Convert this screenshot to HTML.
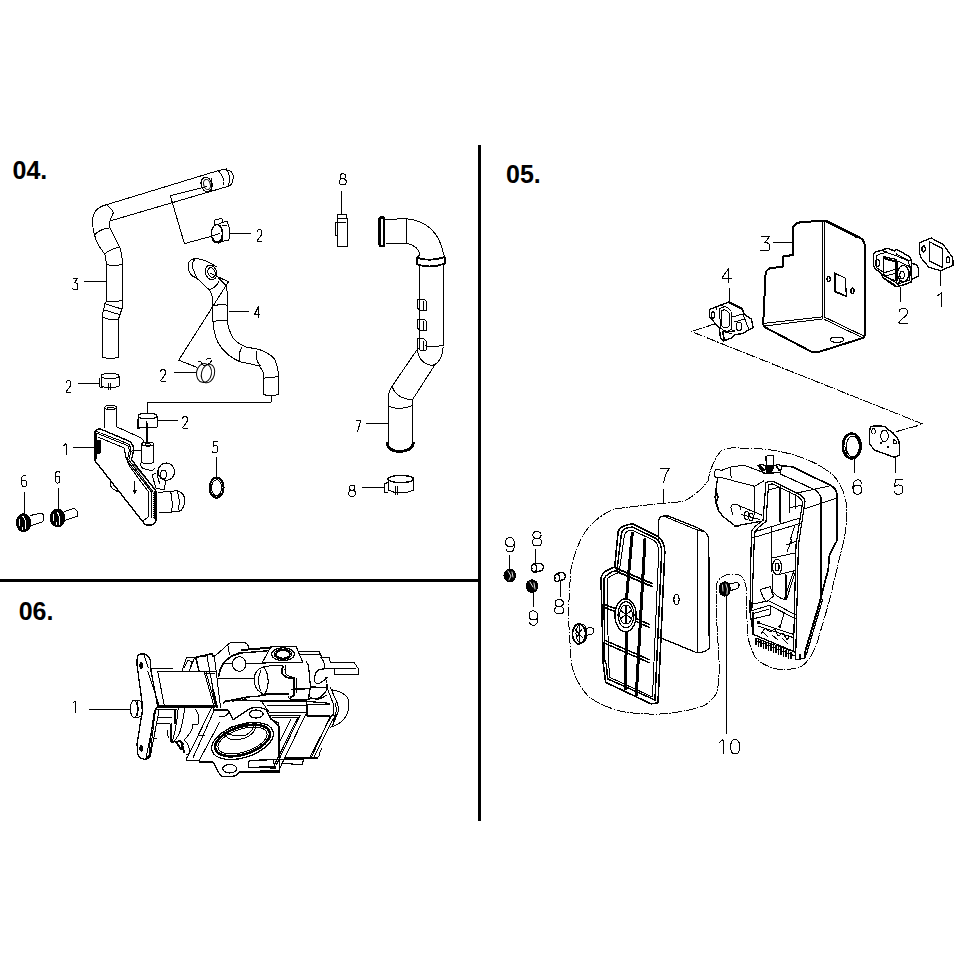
<!DOCTYPE html>
<html><head><meta charset="utf-8">
<style>
html,body{margin:0;padding:0;background:#fff;}
body{width:966px;height:966px;overflow:hidden;position:relative;}
svg{position:absolute;left:0;top:0;}
.t{font-family:"Liberation Sans",sans-serif;}
</style></head><body>
<svg width="966" height="966" viewBox="0 0 966 966">
<defs>
<g id="d1"><path d="M1,2.5 L3,0.5 L3,12"/></g>
<g id="d2"><path d="M0,3 Q0,0.5 2.5,0.5 Q5,0.5 5,3.5 Q5,6 2.5,8.5 L0,12 L5,12"/></g>
<g id="d3"><path d="M1,0.5 L5,0.5 L2.2,4.5 Q5.5,5 5.5,8.5 Q5.5,11.8 3,11.8 Q1.5,11.8 0,10.8"/></g>
<g id="d4"><path d="M4,12 L4,0.5 L0,8.5 L5.5,8.5"/></g>
<g id="d5"><path d="M5,0.5 L1,0.5 L0.5,5.5 Q1.5,4.5 3,4.5 Q5.2,4.5 5.2,8 Q5.2,12 2.5,12 Q1,12 0,11"/></g>
<g id="d6"><path d="M4.5,1 Q3.5,0.5 2.5,0.5 Q0,0.5 0,6 Q0,12 2.5,12 Q5,12 5,8.5 Q5,5 2.5,5 Q0.5,5 0,7"/></g>
<g id="d7"><path d="M0,0.5 L5,0.5 L1.5,12"/></g>
<g id="d8"><path d="M3.5,0.5 Q0.8,0.5 0.8,3 Q0.8,5.6 3.5,5.6 Q6.2,5.6 6.2,3 Q6.2,0.5 3.5,0.5 M3.5,5.6 Q0,5.6 0,8.7 Q0,11.6 3.5,11.6 Q7,11.6 7,8.7 Q7,5.6 3.5,5.6"/></g>
<g id="D1"><path d="M2.5,3.5 L6,0.5 L6,15"/></g>
<g id="D2"><path d="M0.7,4.3 Q0.7,0.5 5,0.5 Q9.3,0.5 9.3,4.3 Q9.3,7 6,9.2 Q1.5,12 0.5,15 L9.5,15"/></g>
<g id="D3"><path d="M0.5,0.5 L9,0.5 L4.5,6.2 Q9.3,6.5 9.3,10.5 L9.3,12.3 Q9,14.6 5.5,14.6 L0.5,14.3"/></g>
<g id="D4"><path d="M7,15 L7,0.5 L0.3,10.5 L9.8,10.5"/></g>
<g id="D5"><path d="M9,0.5 L2,0.5 L1,7.7 Q2.5,5.7 5,5.7 Q9.5,5.7 9.5,10.2 Q9.5,15 5,15 Q1,15 0.5,12"/></g>
<g id="D6"><path d="M9,3.8 Q8.3,0.5 5.2,0.5 Q0.6,0.5 0.6,8 Q0.6,15 5,15 Q9.5,15 9.5,10.3 Q9.5,5.8 5.2,5.8 Q1.5,5.8 0.7,9.3"/></g>
<g id="D7"><path d="M0.5,0.5 L9.5,0.5 Q5,6 3.5,15"/></g>
<g id="D8"><path d="M5,0.5 Q0.9,0.5 0.9,4 Q0.9,7.3 5,7.3 Q9.1,7.3 9.1,4 Q9.1,0.5 5,0.5 Z M5,7.3 Q0.5,7.3 0.5,11 Q0.5,15 5,15 Q9.5,15 9.5,11 Q9.5,7.3 5,7.3 Z"/></g>
<g id="D9"><path d="M9.3,6.5 Q8.7,9.7 5,9.7 Q0.5,9.7 0.5,5.2 Q0.5,0.5 5,0.5 Q9.5,0.5 9.4,7.5 Q9.4,15 5,15 Q1.5,15 1,11.8"/></g>
<g id="D0"><path d="M5,0.5 Q0.5,0.5 0.5,7.75 Q0.5,15 5,15 Q9.5,15 9.5,7.75 Q9.5,0.5 5,0.5 Z"/></g>
</defs>
<rect x="478" y="145" width="3" height="676" fill="#000"/>
<rect x="0" y="579" width="478" height="3" fill="#000"/>
<text class="t" x="12.5" y="178.7" font-size="25" font-weight="bold">04.</text>
<text class="t" x="506" y="183" font-size="25" font-weight="bold">05.</text>
<text class="t" x="18.7" y="619.7" font-size="25" font-weight="bold">06.</text>
<g fill="none" stroke="#000" shape-rendering="crispEdges" stroke-width="1" stroke-linejoin="round" stroke-linecap="round">

<!-- hose 3 -->
<path d="M106.6,204.7 L219.2,170.3 Q233,168 233.3,177 Q233,186 227.5,186.5 L213.4,190.6 L109.9,221"/>
<path d="M218.4,170.8 Q225,178 224,184.8 M226.5,169 Q231,175 228.5,186"/>
<path d="M106.6,204.7 Q92,208 92.5,223 Q93,240 104.9,254.4 L106.6,264.3 L106.6,301.2"/>
<path d="M106.6,204.7 Q113,210 113.2,213 L109.9,221 L109.9,227.9 L120.6,249.4 L122.3,259.4 L122.6,304.3"/>
<path d="M95,234.5 Q100,229 109.9,227.9"/>
<path d="M104,254.4 Q110,249 119.8,247"/>
<path d="M106.6,264.3 Q114,267 122.3,264.3"/>
<path d="M106.6,301.2 L105,303.6 L102.7,313.7 L102.4,357.1 Q110,360 118.5,357.1 L118.5,319 L122.1,308.2 L122.6,304.3"/>
<path d="M106.6,301.2 Q115,302 122.6,300.5 M105,303.6 L121.5,309 M103.5,309.8 L119.5,314.5 M102.6,317 Q110,321 118.5,319"/>
<ellipse cx="206.5" cy="184.5" rx="5.3" ry="7.5" transform="rotate(-15 206.5 184.5)" stroke-width="1.2"/>
<ellipse cx="207" cy="184.5" rx="3.3" ry="5.2" transform="rotate(-15 207 184.5)"/>
<path d="M211,178 Q213,183 211.5,191"/>
<path d="M206.8,186.5 L170.3,195.6 L184.4,243.6 L211.7,236.2"/>
<!-- clamp 2 at 220,231 -->
<ellipse cx="216.9" cy="233.5" rx="5.4" ry="9" stroke-width="1.3"/>
<path d="M212.5,238 Q214,243 219,242.5 Q222,241 222.3,236" stroke-width="2"/>
<path d="M222.9,222.1 L227.1,221.6 L229.5,228 L229.5,238.4 L228.5,240.3 L222.5,241.2 M220.5,226 Q224,232 222.5,241 M222,226 L227,225.5"/>
<path d="M214.1,225 L214.1,220.2 L218,219.5 L219.5,218.4 L222,218.5 L222.5,222 L219,224"/>
<path d="M212,236 L219.5,233.5"/>
<path d="M230,233 L251,233"/>
<use href="#d2" x="257" y="229"/>
<use href="#d3" x="72.5" y="278"/>
<path d="M84,281.5 L106.6,281.5"/>
<!-- clamp 2 lower-left -->
<ellipse cx="110" cy="376" rx="9" ry="2.5"/>
<path d="M101,376 L101,386 Q110,390 119,386 L119,376 M99.6,378 L99.6,387 L103,388 M108,383 L108,390 M110,383 L110,390"/>
<path d="M78.3,383.2 L99.6,383.2"/>
<use href="#d2" x="66" y="380"/>

<!-- hose 4 -->
<path d="M195,258.5 Q188,260 188,266 Q188,275 196.6,278 L209,289.6 Q212,293 212.1,296.6 L212.9,305.9 L212.9,321.4 Q214,335 218.3,343.2 Q226,356 240,361.8 L258.7,365.7 Q263,370 263.4,374.2 L263.4,394.4 Q270,397 278.1,394.4 L278.1,371.1 Q276,361 274.2,358.7 Q268,352 258.7,349.4 L246.3,347 Q236,343 232.3,337 Q228,328 227.6,321.4 L227.6,296.6 Q227,289 226,285.7 L218.3,278"/>
<path d="M195,258.5 Q205,259 216.8,267 M194.3,271.7 Q190,265 195,259 M194.3,271.7 L196.6,278"/>
<ellipse cx="211" cy="272.5" rx="5.5" ry="7.5" transform="rotate(-20 211 272.5)"/>
<ellipse cx="211.5" cy="272.5" rx="3.5" ry="5" transform="rotate(-20 211.5 272.5)"/>
<path d="M209,289.6 Q216,288 219,281"/>
<path d="M212.9,305.9 Q220,304 227.6,305.2 M212.9,321.4 Q220,320 227.6,320.6"/>
<path d="M241.6,347.8 Q238,354 240,361.8 M257.1,351 Q254,358 260.2,365.7"/>
<path d="M263.4,378.1 Q270,378 278.1,376.6"/>
<path d="M210.6,273.3 L228.4,281.8 L178.7,360.2 L196.6,367.2"/>
<path d="M229.2,311.3 L248.6,311.3"/>
<use href="#d4" x="254.5" y="306"/>
<!-- clamp 2 mid -->
<ellipse cx="204" cy="373" rx="7.5" ry="9.5" transform="rotate(10 204 373)"/>
<ellipse cx="208" cy="373.5" rx="6.5" ry="9.5" transform="rotate(15 208 373.5)"/>
<path d="M198,362 L200,361 L204,366 L210,363 L212,360 M206,360 L208,358 L211,359"/>
<path d="M174,372.7 L195.8,372.7"/>
<use href="#d2" x="160.5" y="369"/>
<!-- leader hose4 -> clamp on part1 -->
<path d="M271,396 L271,402.4 L147.1,402.4 L147.1,413.2"/>
<!-- clamp 2 on part 1 -->
<ellipse cx="147.5" cy="416" rx="9.5" ry="2.8"/>
<path d="M138,416 L138,427 Q147,429 157,427 L157,416 M137.1,419 L137.1,428 L140,428"/>
<path d="M146.5,422 L147,443" stroke-width="2"/>
<path d="M157,420.3 L177.7,420.3"/>
<use href="#d2" x="182.5" y="416"/>
<!-- part 1 body -->
<path d="M104.8,407.4 L104.8,428 M116.4,407.4 L116.4,426.6"/>
<ellipse cx="110.6" cy="407.5" rx="5.8" ry="2"/>
<ellipse cx="110.6" cy="408.5" rx="3.5" ry="1.2"/>
<path d="M95.1,460.9 L94.5,434 Q95,429.5 100,428.8 L129.3,441.3 Q134,445 133.7,450 L131.5,459.8 L155.4,490.2 Q156.5,491.5 156.5,493 L156.5,519.6 Q155,525 149,525.3 Q146,525 144.5,523.9 L95.1,460.9" stroke-width="1.4"/>
<path d="M97.5,433.5 L127.5,445.5 Q129.5,448 129.3,451 L127.2,460.5 L151.5,492 L151.5,518"/>
<path d="M97,431.5 L128.5,444 Q131,447 130.8,451 L128.8,460 L153,491.5 L153,518" stroke-width="1" stroke-dasharray="1 1"/>
<path d="M95.5,434 L95.5,458" stroke-width="2.4"/>
<path d="M97,440 L100,440 L100,453 L97,453 Z" fill="#000"/>
<path d="M97.8,437 L123.9,447.8 Q125,452 126,457.6 Q128,463 130.4,467.4 L148.9,492.4 L148.9,516.3 L143.4,520.7"/>
<path d="M116.3,426.6 L141.3,438 Q144,440 144.5,443 M131.5,451.1 L141.3,450"/>
<path d="M141.8,444 L141.8,462.5 Q147,465 153.8,462.5 L153.8,444" stroke-width="1.1"/>
<ellipse cx="147.8" cy="444" rx="6" ry="2"/>
<path d="M145.5,443.5 L150,443.5 L150,446 L145.5,446 Z"/>
<path d="M140.2,463 Q141,468 143.4,468.5 L151,470.7 Q154,470 154.3,468.5"/>
<path d="M131,466 L153,492 M133,464 L155,489" stroke-width="0.9"/>
<ellipse cx="166.3" cy="471.7" rx="8.2" ry="8.7" stroke-width="1.1"/>
<ellipse cx="163.5" cy="474.5" rx="3.3" ry="4.3" stroke-width="1.1"/>
<path d="M158.5,468 Q156,476 160,484 M156,473 L152,475 L156,488 L164,490 L166,480"/>
<path d="M158.7,492.4 L170.6,491.3 L177.1,490.8 Q184.7,493 184.7,500 L184.7,503.3 Q183,509 180.4,510.9 L171.7,512 L158.7,513"/>
<path d="M170.6,491.3 Q173,500 171.7,512 M177,491 Q181,500 178,510" stroke-width="1"/>
<path d="M155.4,492.4 L155.4,518.5" stroke-width="2.4"/>
<path d="M134.7,481.5 L134.7,493.5" stroke-width="1.3"/>
<path d="M133.2,490 L134.7,494 L136.2,490"/>
<path d="M110.8,481.5 Q109,486 113,489 L117.3,491.3" stroke-width="1.1"/>
<path d="M94.2,447.6 L73.4,447.6"/>
<use href="#d1" x="63" y="443"/>
<!-- part 5 o-ring -->
<ellipse cx="216.6" cy="487.7" rx="7" ry="10" stroke-width="2"/>
<ellipse cx="216.6" cy="487.7" rx="5" ry="8"/>
<path d="M216.6,457 L216.6,477.8"/>
<use href="#d5" x="212.5" y="441"/>
<!-- bolts 6 -->
<ellipse cx="23.6" cy="522.7" rx="7.2" ry="9" fill="#000"/>
<path d="M19.5,519 L19.5,526 M23,516.5 Q27,521 25.5,529 M22,527 L22,530" stroke="#fff" stroke-width="1"/>
<path d="M30.2,515.5 L41,513.2 Q43.5,514 43.4,515.5 L43.4,520.2 L42.6,521.7 L31,525.6"/>
<path d="M24.5,492.7 L24.5,513.5"/>
<use href="#d6" x="21.5" y="475"/>
<ellipse cx="57.6" cy="518" rx="7.4" ry="8.7" fill="#000"/>
<path d="M53.5,514 L53.5,521 M57,512 Q61,517 59.5,524.5 M56,522 L56,525" stroke="#fff" stroke-width="1"/>
<path d="M64.3,511.6 L73.7,508.5 Q77.5,510 77.5,512.4 L77.5,516.3 L65.1,520.2"/>
<path d="M58.5,488.6 L58.5,509.5"/>
<use href="#d6" x="55" y="471"/>
<!-- part 8 clip -->
<path d="M337.4,214.3 L346,214.3 L346,218.7 L337.4,218.7 Z M337.4,218.7 L337.4,246 Q342,248 347.5,246 L347.5,218 L346,218.7 M337.4,222.3 L346,222.3 M337.4,222 L335.9,222.5 L335.9,235.4 L337.4,235.4"/>
<path d="M341.7,191.2 L341.7,213.6"/>
<use href="#d8" x="339.3" y="173.2"/>
<!-- part 7 tube -->
<rect x="379.6" y="217.4" width="4.6" height="28.6" rx="1.5" stroke-width="2.3"/>
<path d="M384.5,219.4 L406.2,218.7 M386,244 L407,243.3 M406.2,218.7 L406.2,243.3"/>
<path d="M406.2,218.7 Q437,222 443.2,252.8 M407,243.3 Q418,246 420,254.2"/>
<path d="M417.1,257.8 L417.1,264.3 Q430,269 444.6,263.6 L444.6,257.1 Q430,262 417.1,257.8" stroke-width="1.8"/>
<path d="M417.1,257.8 Q420,254 420,254.2 M443.2,252.8 L444.6,257.1"/>
<path d="M419.5,265.8 L419.5,348.2 M443.7,265.8 L443.7,345.7"/>
<path d="M417.6,299 L424,299 L426.3,301 L426.3,310.3 L420,310.3 L417.6,308 Z M423.5,301 L423.5,310.3"/>
<path d="M417.6,319 L424,319 L426.3,321 L426.3,330.2 L420,330.2 L417.6,328 Z M423.5,321 L423.5,330.2"/>
<path d="M417.6,338.9 L424,338.9 L426.3,341 L426.3,350 L420,350 L417.6,348 Z M423.5,341 L423.5,350"/>
<path d="M425.7,345.7 Q435,348 443.1,345 M417.6,348.8 Q418,363 431.9,365.6 Q442,363 443.1,347"/>
<path d="M416.4,350.7 L392.2,386 Q388.6,392 388.6,396 L388.6,442.5 M434.4,365.6 L412.5,399.7 L412.5,442.5"/>
<path d="M392.2,386 Q395,398 412.5,400 M388.6,406.2 Q400,411 412.5,405.5"/>
<path d="M387,443 Q388,451 400,451.5 Q412,451 413.5,443" stroke-width="2.8"/>
<path d="M366.1,423.3 L388.6,423.3"/>
<use href="#d7" x="356" y="419.5"/>
<!-- part 8 clamp bottom -->
<ellipse cx="400.8" cy="479" rx="12.8" ry="3.6" stroke-width="1.4"/>
<path d="M388,479 L388,490 Q400,496 413.9,490 L413.9,479 M384.2,483.8 L384.2,492.5 L388,492.5 M384.2,483.8 L388,482.5 M395.8,486 L395.8,495 M397.5,486 L397.5,495"/>
<path d="M362,487.4 L384.2,487.4"/>
<use href="#d8" x="348.6" y="484.7"/>

<!-- ===== section 05 ===== -->
<!-- part 3 box -->
<path d="M823,220.6 L799.7,222.4 Q793,224 792.7,229.4 L792.7,255 L782.6,256.6 L782.6,266.7 L770.2,268.2 Q765.5,270 765.5,275.2 L763.2,323.4 Q763.5,326.5 764.8,327.2 L812.1,352.1 L818.3,352.1 L862.6,338.1 Q864.9,336.5 864.9,334.2 L864.9,245.7 Q864,239 858.7,237.2 L826.1,220.6 Z" stroke-width="2"/>
<path d="M826.1,221.8 L857.5,238" stroke-width="1" stroke-dasharray="1 0.8"/>
<path d="M822.7,220.6 L822.7,317.1 M824.6,220.6 L824.6,317.1"/>
<path d="M763.5,323.4 L823,316.8 M764.5,326 L823,318.9 M824.5,317.1 L863.4,335.8 M824.5,319.5 L862,337.5"/>
<path d="M834.6,272.9 L845.5,278.3 L846.3,296.2 L834.6,291.5 Z" stroke-width="1.2"/>
<path d="M834.6,272.9 L834.6,291.5 L846.3,296.2" stroke-width="1.8"/>
<ellipse cx="828.7" cy="279.1" rx="1.6" ry="2.6" stroke-width="1.4"/>
<ellipse cx="852.5" cy="290.7" rx="1.6" ry="2.6" stroke-width="1.4"/>
<ellipse cx="837" cy="339.7" rx="6.8" ry="2.6" stroke-width="1.2"/>
<path d="M773,242.6 L791.9,242.6"/>
<use href="#D3" x="760.5" y="236.2"/>
<!-- part 2 spacer -->
<path d="M873.3,255.4 Q874,252 876.4,251.5 L882,250.4 L887,248.1 L894.3,250.9 L896.5,249.3 L909.4,256.5 Q911,258 911,259.9 L911.6,263.2 L915.5,264.4 Q918.3,266 918.3,268.3 L918.3,276.1 L912.2,278.9 L911,282.2 L901.5,285.6 L895.4,286.7 L883.1,277.8 L881.4,273.3 L875.8,269.4 Q873.3,266 873.3,264.4 Z" stroke-width="1.4"/>
<path d="M876,256 L880,254 L886,252.5 L896,255.5 L908,261 Q910,266 911,272 L909,280.5 L898,284 L885,276 L883,272 L877,268 Z" stroke-width="1"/>
<path d="M883.1,257.7 L896,261 L896,281.1 L883.1,275.5 Z" stroke-width="1.1"/>
<path d="M883.5,258.5 L896,262 M883.5,256.5 L896,259.5" stroke-width="1.3" stroke-dasharray="1 0.8"/>
<path d="M896.5,261 L896.5,281" stroke-width="2.2"/>
<path d="M884.2,272.7 L895.4,269.4 M885.5,276 L895.4,273.3"/>
<path d="M883.1,277.8 L895.4,285.5" stroke-width="1.8" stroke-dasharray="1 0.7"/>
<ellipse cx="877.5" cy="263.2" rx="2.2" ry="3.4" stroke-width="1.1"/>
<ellipse cx="902.1" cy="275" rx="2.2" ry="3.9" stroke-width="1.1"/>
<ellipse cx="903.2" cy="273.5" rx="5.6" ry="8" stroke-width="1.1"/>
<path d="M896.5,254 L909.4,261 M899,261.5 L910.5,267 M907,268 Q911,273 909.5,280 M911.6,263.2 L911.6,279" stroke-width="1"/>
<path d="M882,250.4 L886,252 M898,284.5 L900,281" stroke-width="1.6"/>
<path d="M900.8,287 L900.8,301.6"/>
<use href="#D2" x="898.3" y="308"/>
<!-- part 1 gasket -->
<path d="M919.3,242.9 L931.2,238 L943.2,244.6 L951.9,256.5 Q953.5,260 953,265.2 L941,270.7 L929,267.4 L922.5,259.8 Q919.3,255 919.3,251.1 Z" stroke-width="1.3"/>
<path d="M929.6,241.8 L942.6,248.4 L942.6,267.4 L929.6,260.9 Z" stroke-width="1.3"/>
<ellipse cx="923.6" cy="248.9" rx="1.7" ry="3" stroke-width="1.3"/>
<ellipse cx="948.1" cy="259.8" rx="1.7" ry="3" stroke-width="1.3"/>
<path d="M940.5,271.2 L940.5,285.3"/>
<use href="#D1" x="935.5" y="292"/>
<!-- part 4 holder -->
<path d="M710,309.3 L716.2,306.8 L728.7,302.1 L742.1,308.8 L744.2,314 L751.4,319.2 L753,327.5 L742.1,333.7 L734.9,334.7 L731.8,337.8 L723.5,340.9 L720.4,337.8 L719.3,327.5 L715.2,323.3 L709.5,317.1 L709.5,310.9 Z" stroke-width="1.4"/>
<path d="M728.7,302.1 L742.1,308.8" stroke-width="2.2"/>
<ellipse cx="713.1" cy="315" rx="1.8" ry="3.2"/>
<path d="M721,311 Q725.5,308 729,313 L729,326 Q726,330 722,326 Z" stroke-width="1"/>
<path d="M719.5,309 Q726,304 731,311 L731.5,329 Q726,334 720.5,328 Z" stroke-width="1"/>
<ellipse cx="739" cy="326.4" rx="2.8" ry="4.3"/>
<path d="M731.8,317.1 L743.1,314 M734,322 L745,319 M743,314 L749,330 M722,331 L732,334 M716.2,306.8 L717,310 M722,304 L724,308" />
<path d="M723,333 L724,339 M726,332 L734,331" stroke-width="1.6"/>
<path d="M729.5,288.1 L729.5,302.1"/>
<use href="#D4" x="721.8" y="267.5"/>
<!-- dashed line -->
<path d="M715.2,323.8 L714.2,324.1 L713.3,324.4 L712.3,324.7 L711.4,325.0 L710.4,325.4 L709.5,325.7 L708.5,326.0 L707.6,326.3 L706.9,326.5 M704.7,327.2 L704.0,327.5 M701.9,328.2 L700.9,328.5 L700.0,328.8 L699.0,329.1 L698.1,329.4 L697.1,329.7 L696.2,330.0 L695.2,330.4 L694.3,330.7 L693.5,330.9 M691.4,331.6 L692.1,331.9 M694.2,332.7 L695.1,333.1 L696.0,333.5 L697.0,333.8 L697.9,334.2 L698.8,334.6 L699.8,334.9 L700.7,335.3 L701.6,335.7 L702.3,336.0 M704.4,336.8 L705.1,337.1 M707.2,337.9 L708.1,338.3 L709.1,338.7 L710.0,339.0 L710.9,339.4 L711.8,339.8 L712.8,340.1 L713.7,340.5 L714.6,340.9 L715.3,341.2 M717.4,342.0 L718.1,342.3 M720.2,343.1 L721.1,343.5 L722.1,343.8 L723.0,344.2 L723.9,344.6 L724.8,345.0 L725.8,345.3 L726.7,345.7 L727.6,346.1 L728.3,346.4 M730.4,347.2 L731.1,347.5 M733.2,348.3 L734.1,348.7 L735.1,349.0 L736.0,349.4 L736.9,349.8 L737.9,350.2 L738.8,350.5 L739.7,350.9 L740.6,351.3 L741.3,351.5 M743.4,352.4 L744.1,352.7 M746.2,353.5 L747.1,353.9 L748.1,354.2 L749.0,354.6 L749.9,355.0 L750.9,355.4 L751.8,355.7 L752.7,356.1 L753.6,356.5 L754.3,356.7 M756.4,357.6 L757.1,357.9 M759.2,358.7 L760.2,359.1 L761.1,359.4 L762.0,359.8 L762.9,360.2 L763.9,360.5 L764.8,360.9 L765.7,361.3 L766.7,361.7 L767.4,361.9 M769.4,362.8 L770.1,363.1 M772.2,363.9 L773.2,364.3 L774.1,364.6 L775.0,365.0 L775.9,365.4 L776.9,365.7 L777.8,366.1 L778.7,366.5 L779.7,366.9 L780.4,367.1 M782.4,368.0 L783.1,368.3 M785.2,369.1 L786.2,369.5 L787.1,369.8 L788.0,370.2 L789.0,370.6 L789.9,370.9 L790.8,371.3 L791.7,371.7 L792.7,372.1 L793.4,372.3 M795.5,373.2 L796.2,373.4 M798.2,374.3 L799.2,374.7 L800.1,375.0 L801.0,375.4 L802.0,375.8 L802.9,376.1 L803.8,376.5 L804.7,376.9 L805.7,377.3 L806.4,377.5 M808.5,378.4 L809.2,378.6 M811.2,379.5 L812.2,379.8 L813.1,380.2 L814.0,380.6 L815.0,381.0 L815.9,381.3 L816.8,381.7 L817.8,382.1 L818.7,382.4 L819.4,382.7 M821.5,383.6 L822.2,383.8 M824.3,384.7 L825.2,385.0 L826.1,385.4 L827.0,385.8 L828.0,386.2 L828.9,386.5 L829.8,386.9 L830.8,387.3 L831.7,387.6 L832.4,387.9 M834.5,388.8 L835.2,389.0 M837.3,389.9 L838.2,390.2 L839.1,390.6 L840.0,391.0 L841.0,391.4 L841.9,391.7 L842.8,392.1 L843.8,392.5 L844.7,392.8 L845.4,393.1 M847.5,394.0 L848.2,394.2 M850.3,395.1 L851.2,395.4 L852.1,395.8 L853.1,396.2 L854.0,396.5 L854.9,396.9 L855.8,397.3 L856.8,397.7 L857.7,398.0 L858.4,398.3 M860.5,399.1 L861.2,399.4 M863.3,400.3 L864.2,400.6 L865.1,401.0 L866.1,401.4 L867.0,401.7 L867.9,402.1 L868.9,402.5 L869.8,402.9 L870.7,403.2 L871.4,403.5 M873.5,404.3 L874.2,404.6 M876.3,405.5 L877.2,405.8 L878.1,406.2 L879.1,406.6 L880.0,406.9 L880.9,407.3 L881.9,407.7 L882.8,408.1 L883.7,408.4 L884.4,408.7 M886.5,409.5 L887.2,409.8 M889.3,410.7 L890.2,411.0 L891.1,411.4 L892.1,411.8 L893.0,412.1 L893.9,412.5 L894.9,412.9 L895.8,413.3 L896.7,413.6 L897.4,413.9 M899.5,414.7 L900.2,415.0 M902.3,415.8 L903.2,416.2 L904.2,416.6 L905.1,417.0 L906.0,417.3 L906.9,417.7 L907.9,418.1 L908.8,418.4 L909.7,418.8 L910.4,419.1 M912.5,419.9 L913.2,420.2 M915.3,421.0 L916.2,421.4 L917.2,421.8 L918.1,422.2 L919.0,422.5 L919.9,422.9 L920.9,423.3 L921.8,423.6 L922.7,424.0 L923.0,424.3 M920.8,424.9 L920.1,425.1 M917.9,425.7 L916.9,425.9 L915.9,426.2 L915.0,426.5 L914.0,426.7 L913.0,427.0 L912.1,427.3 L911.1,427.5 L910.1,427.8 L909.4,428.0 M907.2,428.6 L906.5,428.8 M904.3,429.4 L903.4,429.7 L902.4,430.0 L901.4,430.2 L900.5,430.5 L899.5,430.8 L898.5,431.0 L897.6,431.3 L896.6,431.6 L896.1,431.7 M893.9,432.3 L893.2,432.5" stroke-width="1"/>
<!-- part 6 ring -->
<ellipse cx="851.8" cy="446" rx="9" ry="12.5" stroke-width="2.4"/>
<ellipse cx="852.8" cy="446.5" rx="6.5" ry="10.5" stroke-width="1"/>
<path d="M845,440 Q844,446 847,454" stroke-width="1" stroke-dasharray="1 1"/>
<path d="M854.5,458.4 L854.5,473"/>
<use href="#D6" x="852.3" y="479.3"/>
<!-- part 5 plate -->
<path d="M870.4,427.3 Q871,426 874,426 L885,426.3 L897.3,437.7 Q899.5,441 899.4,446 L899.4,455.3 L894.2,457.3 L874.6,450.1 L869.4,443.9 L869.4,431 Z" stroke-width="1.4"/>
<ellipse cx="873.5" cy="431.4" rx="1.8" ry="2.6"/>
<ellipse cx="884.5" cy="436" rx="3.8" ry="5.8"/>
<path d="M893,439.5 L896,440.5 L896,444 L893,443 Z"/>
<circle cx="880.8" cy="442.8" r="0.8" fill="#000"/>
<circle cx="888" cy="447" r="0.8" fill="#000"/>
<path d="M895.5,457.3 L895.5,472.5"/>
<use href="#D5" x="893.5" y="479.3"/>
<!-- dashed outline (housing group) -->
<path d="M740.0,448.0 L741.2,448.0 L742.3,448.0 L743.5,448.0 L744.6,448.0 L745.8,448.1 L746.9,448.1 L748.1,448.1 L748.9,448.2 M751.2,448.2 L751.7,448.3 M754.2,448.4 L755.3,448.5 L756.4,448.5 L757.5,448.6 L758.6,448.7 L759.7,448.8 L760.8,448.9 L761.9,449.0 L762.9,449.1 M765.0,449.3 L765.8,449.4 M768.2,449.7 L769.2,449.8 L770.3,449.9 L771.3,450.1 L772.3,450.2 L773.3,450.4 L774.3,450.5 L775.3,450.7 L776.3,450.9 L776.8,451.0 M778.8,451.3 L779.6,451.5 M781.7,451.9 L783.0,452.2 L784.2,452.4 L785.4,452.7 L786.5,453.0 L787.7,453.3 L788.9,453.6 L790.0,453.9 L790.3,453.9 M792.6,454.6 L793.2,454.8 M795.5,455.4 L796.6,455.8 L797.7,456.1 L798.8,456.5 L799.9,456.9 L801.0,457.3 L802.1,457.6 L803.1,458.0 L803.8,458.3 M805.9,459.1 L806.5,459.4 M808.5,460.2 L809.6,460.7 L810.6,461.1 L811.6,461.6 L812.6,462.1 L813.5,462.6 L814.5,463.0 L815.5,463.5 L816.4,464.0 M818.3,465.1 L819.1,465.5 M820.9,466.6 L821.9,467.1 L822.8,467.7 L823.7,468.2 L824.5,468.8 L825.4,469.4 L826.3,470.0 L827.2,470.6 L828.0,471.2 L828.4,471.4 M830.1,472.7 L830.7,473.2 M832.5,474.6 L833.3,475.4 L834.1,476.3 L834.9,477.3 L835.7,478.2 L836.4,479.2 L837.1,480.2 L837.8,481.2 L837.9,481.4 M839.2,483.4 L839.6,484.0 M840.6,485.8 L841.1,486.9 L841.7,487.9 L842.1,489.0 L842.6,490.0 L843.1,491.1 L843.5,492.2 L843.9,493.3 L844.1,493.9 M844.8,496.2 L844.9,496.8 M845.5,499.1 L845.7,500.2 L845.9,501.4 L846.1,502.5 L846.3,503.7 L846.4,504.9 L846.5,506.1 L846.6,507.3 L846.6,507.7 M846.7,509.9 L846.7,510.6 M846.7,512.9 L846.6,514.1 L846.6,515.2 L846.5,516.3 L846.5,517.5 L846.4,518.6 L846.4,519.7 L846.3,520.8 L846.3,521.6 M846.1,523.8 L846.0,524.6 M845.8,527.0 L845.7,528.0 L845.6,529.1 L845.5,530.1 L845.4,531.1 L845.2,532.1 L845.1,533.1 L844.9,534.3 L844.7,535.5 M844.4,537.7 L844.2,538.6 M843.8,540.7 L843.6,541.8 L843.3,542.9 L843.0,544.0 L842.8,545.1 L842.5,546.2 L842.2,547.2 L841.9,548.3 L841.6,549.3 M841.1,551.5 L840.9,552.2 M840.4,554.4 L840.2,555.4 L839.9,556.4 L839.7,557.3 L839.5,558.3 L839.2,559.3 L839.0,560.3 L838.8,561.3 L838.5,562.2 L838.4,562.7 M837.9,564.9 L837.7,565.6 M837.2,567.8 L837.0,568.8 L836.7,569.8 L836.5,570.8 L836.3,571.7 L836.0,572.7 L835.8,573.7 L835.6,574.7 L835.3,575.6 L835.2,576.4 M834.6,578.6 L834.5,579.3 M834.0,581.5 L833.7,582.5 L833.5,583.4 L833.3,584.4 L833.0,585.4 L832.8,586.4 L832.6,587.4 L832.3,588.3 L832.1,589.3 L831.9,590.0 M831.4,592.2 L831.2,593.0 M830.7,595.2 L830.5,596.1 L830.2,597.1 L830.0,598.1 L829.8,599.1 L829.5,600.0 L829.3,601.0 L829.1,602.0 L828.8,602.9 L828.6,603.7 M827.9,605.8 L827.7,606.5 M827.1,608.7 L826.8,609.7 L826.5,610.6 L826.2,611.6 L826.0,612.6 L825.7,613.5 L825.4,614.5 L825.1,615.4 L824.8,616.4 L824.6,617.1 M824.0,619.3 L823.8,620.0 M823.1,622.2 L822.9,623.1 L822.6,624.1 L822.3,625.1 L822.0,626.0 L821.7,627.0 L821.5,627.9 L821.2,628.9 L820.9,629.9 L820.7,630.6 M820.0,632.7 L819.8,633.5 M819.2,635.6 L818.9,636.6 L818.6,637.6 L818.3,638.5 L818.1,639.5 L817.8,640.4 L817.5,641.4 L817.2,642.4 L816.9,643.3 L816.8,643.8 M815.9,646.1 L815.7,646.6 M814.8,648.8 L814.3,649.8 L813.8,650.8 L813.3,651.8 L812.8,652.8 L812.3,653.7 L811.8,654.6 L811.3,655.5 L810.8,656.3 L810.6,656.5 M809.4,658.3 L808.8,659.1 M807.6,660.7 L806.8,661.5 L806.1,662.3 L805.3,663.1 L804.6,663.8 L803.8,664.5 L803.0,665.1 L802.1,665.8 L801.1,666.5 L800.9,666.6 M798.8,667.5 L798.3,667.7 M796.1,668.2 L795.0,668.4 L793.9,668.6 L792.8,668.8 L791.8,668.9 L790.8,669.1 L789.7,669.2 L788.7,669.3 L787.7,669.4 L787.5,669.4 M785.0,669.5 L784.3,669.6 M782.2,669.5 L781.1,669.5 L779.9,669.4 L778.8,669.3 L777.7,669.2 L776.7,669.0 L775.6,668.8 L774.6,668.6 L773.6,668.3 M771.4,667.5 L770.8,667.2 M768.5,666.3 L767.4,665.8 L766.3,665.4 L765.3,664.9 L764.4,664.4 L763.4,663.9 L762.6,663.4 L761.5,662.8 L760.7,662.3 M759.0,661.1 L758.3,660.6 M756.8,659.1 L756.1,658.3 L755.4,657.4 L754.8,656.5 L754.3,655.4 L753.8,654.3 L753.3,653.2 L752.8,652.1 L752.6,651.6 M751.7,649.5 L751.4,648.7 M750.7,646.6 L750.3,645.6 L750.0,644.6 L749.7,643.7 L749.4,642.7 L749.0,641.5 L748.7,640.3 L748.4,639.2 L748.2,638.3 M747.8,636.1 L747.7,635.2 M747.4,633.1 L747.3,632.1 L747.2,631.1 L747.2,629.9 L747.2,628.6 L747.2,627.6 L747.1,626.6 L747.1,625.6 L747.1,624.6 L747.1,624.4 M747.0,622.1 L747.0,621.4 M746.9,619.1 L746.9,618.1 L746.9,617.1 L746.8,616.1 L746.8,615.1 L746.8,614.1 L746.8,613.1 L746.7,612.1 L746.7,611.1 L746.7,610.4 M746.6,608.1 L746.6,607.4 M746.5,605.1 L746.5,604.1 L746.5,603.1 L746.4,602.1 L746.4,601.1 L746.4,600.1 L746.4,599.1 L746.3,598.1 L746.3,597.1 L746.3,596.4 M746.2,594.1 L746.2,593.4 M746.1,591.1 L746.1,590.1 L746.1,589.1 L746.0,588.1 L746.0,587.1 L745.9,586.0 L745.6,584.8 L745.3,583.8 L745.0,582.7 L744.9,582.5 M744.1,580.4 L743.8,579.7 M742.6,577.9 L741.9,577.0 L741.2,576.3 L740.3,575.6 L739.3,575.0 L738.2,574.5 L737.0,574.2 L736.0,574.2 L735.0,574.2 M732.8,574.3 L732.0,574.3 M729.7,574.4 L728.7,574.4 L727.7,574.4 L726.6,574.8 L725.5,575.3 L724.4,575.8 L723.5,576.3 L722.6,576.8 L721.7,577.4 M719.9,578.8 L719.4,579.3 M717.9,581.0 L717.3,582.0 L716.8,583.1 L716.5,584.2 L716.5,585.2 L716.5,586.2 L716.5,587.2 L716.5,588.2 L716.5,589.2 L716.5,589.5 M716.5,591.7 L716.5,592.5 M716.5,594.7 L716.5,595.7 L716.5,596.7 L716.5,597.7 L716.5,598.7 L716.5,599.7 L716.5,600.7 L716.5,601.7 L716.5,602.7 L716.5,603.5 M716.5,605.7 L716.5,606.5 M716.5,608.7 L716.5,609.7 L716.5,610.7 L716.5,611.7 L716.5,612.7 L716.5,613.7 L716.5,614.7 L716.5,615.7 L716.5,616.7 L716.5,617.5 M716.6,619.7 L716.7,620.5 M716.8,622.7 L716.9,623.7 L716.9,624.7 L717.0,625.7 L717.0,626.7 L717.1,627.7 L717.1,628.7 L717.2,629.7 L717.3,630.7 L717.3,631.5 M717.4,633.7 L717.5,634.5 M717.6,636.7 L717.7,637.7 L717.7,638.7 L717.8,639.7 L717.9,640.7 L717.9,641.7 L718.0,642.7 L718.0,643.7 L718.1,644.7 L718.1,645.5 M718.3,647.7 L718.3,648.5 M718.4,650.7 L718.5,651.7 L718.6,652.7 L718.6,653.7 L718.7,654.7 L718.7,655.7 L718.8,656.7 L718.9,657.7 L718.9,658.7 L719.0,659.5 M719.1,661.7 L719.1,662.2 M719.3,664.5 L719.3,665.5 L719.3,666.6 L719.3,667.6 L719.2,668.6 L719.2,669.9 L719.1,671.2 L719.1,672.5 L719.1,673.4 M719.0,675.5 L718.9,676.4 M718.8,678.6 L718.7,679.7 L718.6,680.7 L718.5,681.7 L718.4,683.0 L718.2,684.1 L718.1,685.3 L717.9,686.4 L717.8,687.2 M717.4,689.4 L717.2,690.3 M716.8,692.3 L716.4,693.4 L715.8,694.3 L715.2,695.2 L714.6,696.1 L714.0,696.9 L713.4,697.7 L712.6,698.6 L711.7,699.5 M710.2,701.1 L709.7,701.5 M707.9,703.0 L706.9,703.7 L705.9,704.3 L705.0,704.9 L704.0,705.4 L702.9,705.9 L701.9,706.3 L700.8,706.7 L700.1,707.0 M697.9,707.6 L697.2,707.8 M695.1,708.4 L693.9,708.7 L692.7,709.0 L691.5,709.3 L690.3,709.6 L689.2,709.9 L688.0,710.1 L686.8,710.4 L686.5,710.4 M684.4,710.9 L683.6,711.0 M681.5,711.4 L680.2,711.7 L679.0,711.9 L677.8,712.1 L676.5,712.2 L675.6,712.4 L674.6,712.5 L673.6,712.7 L672.8,712.8 M670.6,713.0 L669.8,713.1 M667.5,713.4 L666.5,713.5 L665.5,713.6 L664.5,713.7 L663.5,713.7 L662.4,713.8 L661.4,713.9 L660.4,714.0 L659.4,714.0 L658.8,714.0 M656.5,714.1 L655.8,714.1 M653.6,714.1 L652.3,714.0 L651.1,714.0 L649.9,714.0 L648.7,714.0 L647.5,713.9 L646.3,713.9 L645.1,713.8 L644.8,713.8 M642.5,713.7 L641.7,713.7 M639.5,713.5 L638.4,713.4 L637.4,713.4 L636.3,713.3 L635.3,713.2 L634.3,713.1 L633.3,713.0 L632.1,712.9 L630.9,712.8 M628.5,712.5 L627.9,712.4 M625.7,712.1 L624.6,711.9 L623.5,711.7 L622.5,711.5 L621.5,711.3 L620.4,711.1 L619.2,710.9 L618.2,710.6 L617.1,710.3 M614.8,709.6 L614.2,709.4 M612.0,708.6 L610.9,708.2 L609.9,707.8 L608.8,707.4 L607.8,707.0 L606.8,706.6 L605.8,706.2 L604.8,705.8 L603.9,705.4 M602.0,704.5 L601.3,704.2 M599.3,703.2 L598.2,702.6 L597.2,702.0 L596.2,701.5 L595.1,700.9 L594.2,700.3 L593.2,699.7 L592.3,699.1 L591.7,698.7 M589.8,697.4 L589.3,697.0 M587.6,695.6 L586.9,694.8 L586.3,693.9 L585.6,693.1 L584.9,692.3 L584.3,691.5 L583.6,690.6 L583.0,689.8 L582.4,688.9 L582.1,688.5 M581.0,686.8 L580.6,686.2 M579.4,684.3 L578.8,683.2 L578.2,682.2 L577.6,681.1 L577.0,680.0 L576.5,679.0 L576.0,677.9 L575.5,676.8 L575.3,676.4 M574.5,674.4 L574.2,673.7 M573.4,671.5 L573.1,670.4 L572.8,669.3 L572.4,668.2 L572.2,667.1 L571.9,666.0 L571.7,664.9 L571.4,663.8 L571.3,663.1 M571.1,660.9 L571.1,660.2 M570.9,657.9 L570.9,656.9 L570.8,655.9 L570.7,654.9 L570.7,653.9 L570.6,652.9 L570.5,651.9 L570.5,650.9 L570.4,649.9 L570.4,649.2 M570.2,646.9 L570.2,646.2 M570.0,643.9 L570.0,642.9 L569.9,641.9 L569.9,640.9 L569.8,639.9 L569.7,638.9 L569.7,637.9 L569.6,636.9 L569.5,635.9 L569.5,635.2 M569.4,632.9 L569.3,632.2 M569.2,629.9 L569.1,628.9 L569.0,627.9 L569.0,626.9 L568.9,625.9 L568.9,624.9 L568.8,623.9 L568.7,622.9 L568.7,621.9 L568.6,621.2 M568.5,618.9 L568.4,618.2 M568.4,615.8 L568.5,614.7 L568.5,613.6 L568.5,612.5 L568.6,611.4 L568.6,610.4 L568.6,609.3 L568.7,608.2 L568.7,607.1 M568.8,605.0 L568.8,604.2 M568.9,601.9 L568.9,600.8 L569.0,599.8 L569.0,598.8 L569.1,597.7 L569.1,596.7 L569.2,595.7 L569.2,594.7 L569.3,593.7 L569.3,593.2 M569.4,590.9 L569.5,590.2 M569.6,587.9 L569.7,586.7 L569.7,585.5 L569.8,584.2 L569.9,583.0 L570.0,581.8 L570.1,580.6 L570.2,579.4 L570.2,579.2 M570.4,577.1 L570.4,576.1 M570.6,574.0 L570.7,572.9 L570.8,571.7 L570.9,570.6 L571.0,569.4 L571.1,568.3 L571.3,567.1 L571.6,565.8 L571.8,565.2 M572.3,563.1 L572.5,562.5 M573.1,560.1 L573.5,559.0 L573.8,557.9 L574.2,556.7 L574.5,555.6 L574.8,554.5 L575.2,553.5 L575.6,552.4 L575.7,551.9 M576.5,549.9 L576.7,549.1 M577.6,546.9 L577.9,546.0 L578.3,545.1 L578.8,543.9 L579.3,542.8 L579.8,541.7 L580.3,540.7 L580.8,539.6 L581.1,539.0 M582.1,537.1 L582.5,536.3 M583.7,534.3 L584.2,533.5 L584.9,532.5 L585.5,531.5 L586.2,530.6 L586.9,529.7 L587.5,528.8 L588.3,527.9 L588.9,527.3 M590.2,525.7 L590.8,525.2 M592.4,523.5 L593.1,522.8 L593.8,522.1 L594.6,521.4 L595.5,520.6 L596.4,519.8 L597.4,519.0 L598.3,518.2 L598.9,517.8 M600.7,516.5 L601.5,515.9 M603.3,514.7 L604.3,514.1 L605.3,513.5 L606.4,512.9 L607.4,512.3 L608.5,511.8 L609.5,511.3 L610.6,510.8 L611.0,510.6 M613.0,509.8 L613.7,509.5 M615.9,508.7 L616.9,508.6 L617.9,508.5 L618.9,508.3 L619.9,508.2 L620.9,508.1 L621.9,508.0 L622.9,507.9 L623.9,507.8 L624.6,507.7 M626.8,507.4 L627.6,507.3 M629.8,507.1 L630.8,506.9 L631.8,506.8 L632.8,506.7 L633.8,506.6 L634.8,506.5 L635.8,506.4 L636.8,506.2 L637.8,506.1 L638.5,506.0 M640.8,505.8 L641.5,505.7 M643.8,505.4 L644.7,505.3 L645.7,505.2 L646.7,505.1 L647.7,504.9 L648.7,504.8 L649.7,504.7 L650.7,504.6 L651.7,504.5 L652.5,504.4 M654.7,504.1 L655.4,504.0 M657.7,503.8 L658.7,503.7 L659.7,503.5 L660.7,503.4 L661.7,503.3 L662.7,503.2 L663.7,503.1 L664.8,503.1 L665.9,503.1 L666.4,503.0 M668.5,502.9 L669.3,502.9 M671.4,502.8 L672.4,502.7 L673.4,502.6 L674.4,502.5 L675.7,502.3 L676.9,502.1 L678.1,502.0 L679.3,501.8 L680.2,501.6 M682.5,501.1 L683.2,501.0 M685.4,500.4 L686.5,499.9 L687.4,499.3 L688.3,498.8 L689.2,498.2 L690.1,497.6 L691.0,497.0 L691.8,496.4 L692.7,495.9 M694.5,494.5 L695.1,494.0 M696.9,492.6 L697.8,491.8 L698.8,491.0 L699.7,490.2 L700.5,489.4 L701.4,488.5 L702.2,487.7 L703.1,486.8 L703.2,486.6 M704.8,484.9 L705.3,484.4 M706.6,482.7 L707.3,481.8 L708.0,480.9 L708.3,479.8 L708.5,478.7 L708.7,477.5 L709.0,476.4 L709.3,475.3 L709.5,474.5 M710.0,472.4 L710.3,471.6 M710.9,469.6 L711.2,468.6 L711.6,467.6 L711.9,466.7 L712.3,465.7 L712.7,464.6 L713.2,463.4 L713.7,462.3 L714.2,461.3 M715.2,459.4 L715.6,458.6 M716.8,456.7 L717.3,455.8 L718.0,454.9 L718.6,454.1 L719.2,453.2 L719.9,452.4 L720.6,451.6 L721.3,450.9 L722.0,450.1 L722.1,450.0 M724.3,449.3 L724.9,449.1 M727.2,448.5 L728.4,448.3 L729.6,448.1 L730.8,448.0 L732.0,447.9 L733.2,447.8 L734.2,447.8 L735.3,447.8 L736.0,447.8 M738.1,447.8 L738.9,447.9" stroke-width="1"/>
<!-- label 7 -->
<path d="M663.4,489.1 L663.4,503.1"/>
<use href="#D7" x="660" y="468"/>
<!-- foam block -->
<path d="M658.5,540 L658.5,521 Q659,516.5 663.5,516 L668,516 L696.7,527.3 L705,532 Q708.5,535 708.8,540 L709.2,648.1 Q705,653 696.7,652.7 L658,636.7" stroke-width="1.3"/>
<path d="M663.5,516 L696,529.5 Q700,531 704,531.5 M697.8,530 L697.8,652.5"/>
<ellipse cx="676.5" cy="599.5" rx="2.6" ry="5" stroke-width="1.1"/>
<!-- filter frame -->
<path d="M618.1,531.9 Q620,525 632.9,523.9 L658,536.5 Q664.5,541 664.8,552.4 L658,702.8 L651.1,703.9 L605.6,682.3 L603.3,664 L601,577.5 Q603,570.5 614.7,567.2 Z" stroke-width="1.6"/>
<path d="M621.5,533 Q623,527.5 632.5,527 L656,538.5 Q661.5,542.5 661.7,552 L655,700 L607.5,678.8 L606.5,665 L604.5,659.5 L604,579 Q606,573.5 617,570 Z" stroke-width="1.5"/>
<path d="M624.5,535 Q626,530.5 632,530 L654,540.5 Q658.5,543.5 658.7,552 L652.5,697 L610,677.5 L608.5,663 L607,579.5 Q609,576 619,572.5 Z" stroke-width="1"/>
<path d="M632.3,533 L626.5,598.5 M626.3,632 L625.6,689 M645,539 L636.3,694.8" stroke-width="3"/>
<path d="M615.5,568 L652,583.5 M615.5,571 L652,586.5" stroke-width="1.8"/>
<path d="M605.6,604.8 L615,608.5 M637,618.9 L648.9,624.2 M605.6,607.8 L615,611.5 M637,621.9 L648.9,627.2" stroke-width="1.5"/>
<path d="M604.4,640.1 L648.9,659.5 M604.4,643.1 L648.9,662.5" stroke-width="1.5"/>
<ellipse cx="625.6" cy="615.2" rx="10.6" ry="16.5" stroke-width="1.4"/>
<ellipse cx="626" cy="614.8" rx="8" ry="13" stroke-width="1.2"/>
<ellipse cx="626" cy="614.5" rx="6.3" ry="9.5" stroke-width="1"/>
<path d="M626,605 L626,624 M620.5,610.5 L631.5,618.5 M631.5,610.5 L620.5,618.5" stroke-width="1.3"/>
<!-- screw left of frame -->
<ellipse cx="579" cy="634" rx="6.5" ry="10" stroke-width="1.6"/>
<ellipse cx="581.5" cy="633.5" rx="5.5" ry="9.5"/>
<path d="M575.5,630 L583,638 M582,629 L576,639 M579,625 L579,643"/>
<path d="M585.5,628.5 L591.5,627.5 Q594,628.5 594,631 Q593.5,634 590,634.5 L586.5,635.5"/>
<!-- small nuts 8, 9 -->
<ellipse cx="509.8" cy="575.5" rx="5.8" ry="6.3" fill="#000" stroke-width="1"/>
<path d="M508,571 L511,576 L509,580 M512,572 L513,577" stroke="#fff" stroke-width="0.9"/>
<path d="M509.5,555.3 L509.5,569.4"/>
<use href="#D9" x="505" y="537"/>
<path d="M532,568 Q530.5,566 534,563.5 L540,563.4 Q543.5,564.5 543.3,567.5 Q543,570.5 540,571 L534,572.5 Q530.5,571 532,568 Z" stroke-width="1.3"/>
<ellipse cx="534" cy="568.1" rx="2.4" ry="4.2" stroke-width="1.3"/>
<path d="M535.4,549.2 L535.4,563.4"/>
<use href="#D8" x="532" y="531"/>
<ellipse cx="532" cy="586.2" rx="5.8" ry="6.3" fill="#000" stroke-width="1"/>
<path d="M530,582 L533,587 M534,583 L535,589" stroke="#fff" stroke-width="0.9"/>
<path d="M533.4,593 L533.4,606.4"/>
<use href="#D9" x="528.5" y="610.3"/>
<path d="M555,578 Q554,575 557,573.3 L563,572.5 Q565.5,573.5 565.3,576.5 Q565,579.5 562,580 L557,581.5 Q554,581 555,578 Z" stroke-width="1.3"/>
<ellipse cx="557" cy="577.8" rx="2.4" ry="4" stroke-width="1.3"/>
<path d="M560.7,581.5 L560.7,596.3"/>
<use href="#D8" x="554.2" y="599"/>
<!-- air filter housing -->
<!-- left lump -->
<path d="M721.1,470.5 L730.8,467 L744,465.2 L765.1,473.1 M721.1,477.5 L754.6,486.3 M730.8,467 Q729,472 731.7,477.5 M754.6,486.3 L754.6,514.5 M754.6,486.3 L763.4,481"/>
<path d="M721.1,470.5 Q718,468.5 715.5,470 Q713.5,473 714.5,476 Q716,478.5 721.1,477.5" stroke-width="1.1"/>
<path d="M717.6,477.5 L715,496.9 L717.6,509.2 L722.9,516.3 L735.2,526 L759.9,521.5" stroke-width="1.3"/>
<path d="M715.5,490 L718,497 L716,503 L718.5,509" stroke-width="1.8"/>
<path d="M730.8,507.5 Q731,504.5 735,504 Q738.5,504 740,507 L740.5,510 M733,515 L730.8,507.5 M740,506 L761.5,515 M741.5,514.5 L759.5,519.5"/>
<ellipse cx="746.7" cy="515.4" rx="2.4" ry="4" stroke-width="1.2"/>
<ellipse cx="751" cy="516.8" rx="2.2" ry="3.8" stroke-width="1"/>
<path d="M735.2,526 L738,526.5" stroke-width="2"/>
<!-- clip knob -->
<path d="M765.9,456.5 Q769,454.5 773.8,456 L773.5,466 M765.9,456.5 L766.5,466" stroke-width="1.3"/>
<path d="M758,465.5 L762,464.5 L766.5,466 L773.5,466 L778,464.5 L782,466 L780,472.5 L764,473.5 Z" stroke-width="1.3"/>
<path d="M765,466.5 L774,466.5 L771.5,472.5 L767,472.5 Z" fill="#000" stroke-width="1"/>
<path d="M761,467 L764,470 M777,467 L779,470" stroke-width="1.5"/>
<!-- outer shell -->
<path d="M781.8,466 L792,466.7 L831.1,485.6 Q836.9,489 836.9,495 L836.9,540.7 L829.5,554.7 L828.2,569.6 L820.4,599.4 L804.9,652.4" stroke-width="1.7"/>
<path d="M780.4,474 L815.1,489.9 Q820.9,494 820.9,500 L821.1,599.4 L804.9,653.7 M822.5,600 L806.5,654" stroke-width="1.2"/>
<path d="M821.1,498 L821.1,599.4" stroke-width="2.2"/>
<path d="M805,508.8 L835.4,498.6 M797.8,492.8 L831.1,485.6"/>
<!-- bezel -->
<path d="M765.9,482.7 Q769,481 773.1,481.2 L799.2,494.3 Q805,498 805,501.5 L798.4,545 L795.8,652.4 M768.5,485 Q771,483.5 773,484 L798,496.5 Q802.5,500 802.5,503 L796,545 L793.5,650" stroke-width="1.2"/>
<path d="M765.9,482.7 L763,520.4 Q753,527 751.4,532 L749.9,611 L753.1,634.3 M768.5,485 L766,521.5 Q756,528.5 754.5,533.5 L751.8,611" stroke-width="1.2"/>
<path d="M753.1,612.3 L753.1,634.3 L795.8,652.4" stroke-width="1.3"/>
<path d="M780.4,487 L780.4,521.8" stroke-width="2"/>
<path d="M771.7,526.2 L771.7,572 M752.8,537.8 L800.7,523.3 M754,532 L800,518 M768.8,489.9 L780.4,487 M789.1,491.4 L789.1,513.1 M795.6,494.3 L795.6,508.8 M789,508 L802,505"/>
<path d="M790.5,539.2 L795,525 M786,545 L797,541 M787,552 L792,539" />
<!-- boss -->
<path d="M772.5,558 L795.8,552.8 M777.7,574.8 L795.8,570.2"/>
<ellipse cx="777.1" cy="567" rx="4.5" ry="7.8" stroke-width="1.2"/>
<ellipse cx="777.1" cy="567" rx="2" ry="3.8" stroke-width="1.2"/>
<path d="M785.5,574.8 L785.5,599.4" stroke-width="2"/>
<path d="M795.8,570.2 L786.5,599.4 M793.5,572 L784,600 M773,574 L772,590 Q775,597 786,600" />
<path d="M760.2,589.7 L770.6,586.4 Q771,592 773.8,596.1 L766.1,602 Q762,596 760.2,589.7 Z"/>
<path d="M750.5,604.5 L768.7,600.7 M750.5,611 L769,605.5 M752,614 L769,609 M768.7,600.7 L795.8,614.9 M769,605 L795.8,619"/>
<path d="M753.1,618.8 L770,614.9 L771,605 M758.3,622.7 L793.3,634.3 M758,626 L793,637.5 M780.3,626.6 L784.2,612.3"/>
<circle cx="758.5" cy="622.5" r="1.2" fill="#000"/>
<circle cx="780" cy="626.5" r="1" fill="#000"/>
<path d="M755.7,638.2 L794.5,652 M757,641 L795,656" stroke-width="1"/>
<path d="M756,638 L756,645 M758.5,639 L758.5,646 M761,640 L761,647 M763.5,641 L763.5,648 M766,642 L766,649 M768.5,643 L768.5,650 M771,644 L771,651 M773.5,645 L773.5,652 M776,646 L776,653 M778.5,647 L778.5,654 M781,648 L781,655 M783.5,649 L783.5,656 M786,650 L786,657 M788.5,651 L788.5,658 M791,652 L791,659" stroke-width="1.1"/>
<path d="M761,634 L765,628 L770,632 L775,629 L778,636 L783,633 L787,640 L790,636 M762,631 L768,637 M772,635 L778,640 M782,638 L788,644" stroke-width="1"/>
<path d="M795.8,652.4 L795.8,660 L804.9,658 L804.9,652.4 M800,654 L800,660" stroke-width="1.2"/>
<!-- bolt 10 -->
<ellipse cx="724.7" cy="589" rx="5.6" ry="7.2" fill="#000"/>
<path d="M722.5,585 L723,591 M726,584 Q728.5,589 727,594" stroke="#fff" stroke-width="0.9"/>
<path d="M729,584 L737,582.5 Q739.5,583 739,586 Q738.5,589 736,589 L729,591"/>
<path d="M726.1,595.3 L726.1,734"/>
<use href="#D1" x="717" y="739" />
<use href="#D0" x="730.2" y="739" />

<!-- ===== section 06 carburetor ===== -->
<path d="M89,709.5 L130.4,709.5"/>
<use href="#d1" x="72" y="700.5" transform="translate(-72 -700.5) translate(72 700.5)"/>
<!-- knob -->
<ellipse cx="134" cy="708.8" rx="3.6" ry="8.6" stroke-width="1.1"/>
<path d="M134,700.2 Q140,699.5 141.5,703 L142.5,714 Q141,717.8 134,717.4 M137.5,702 Q139,709 137.5,716"/>
<!-- flange plate -->
<path d="M138.7,654.8 Q141,653.5 144.5,654 Q149,656 150.3,660.6 L151.1,671.4 L157.7,706.2 L154.4,711.2 L149.4,745.9 L150.3,755.9 Q148,759.5 143.6,759.2 Q139,758 137.8,754.2 L137,744.3 L142.8,707.8 L137,664.8 Q136.5,657 138.7,654.8 Z" stroke-width="1.3"/>
<path d="M147.8,671.4 L159.4,706.2 M155.2,711.2 L150.3,752.6 M144,655 L148.5,668"/>
<ellipse cx="141.2" cy="665.6" rx="1.3" ry="2.8" fill="#000"/>
<ellipse cx="141.2" cy="748.4" rx="1.3" ry="2.8" fill="#000"/>
<!-- intake tube -->
<path d="M151.9,668.9 L172.6,668.9 M157.7,671.4 L205.8,671.4 M157.7,671.4 L164.3,705.4 M205.8,671.4 L215.7,706.2"/>
<path d="M157.7,705.9 L214,705.9 M157.7,707.6 L214,707.6" stroke-width="1.2"/>
<path d="M175,671.2 L216.4,671.2 M175,705.4 L214.3,705.4"/>
<path d="M156.6,709.9 L176.5,709.9 M174.8,709.9 L174.8,723.2 M158.3,717.4 L171,717.4 M156.6,723.2 L170,723.2" stroke-width="1.1"/>
<path d="M175,710 L175,723" stroke-width="2.2"/>
<path d="M171.5,724 L170.7,741.4 L172.5,742" stroke-width="2"/>
<path d="M152.5,738 L157,738.5 M168,730 Q167,735 169,738"/>
<path d="M178.1,708.3 Q178,716 176.5,722.3 Q175,733 172.3,741.4 M184.8,708.3 Q183,722 179.8,732.3 Q176,740 173,742.5"/>
<path d="M195.5,709.1 L198,714 L198,724 L193,724 L192.5,728 Q189,736 184,739.7 Q190,745 189.7,753 L186,755"/>
<path d="M211.3,708.3 L187.2,757.9 M213.7,711.6 L193,757.9 M219.5,722.3 L199.7,759.6 M199,735 L205,735"/>
<path d="M186.4,760.4 L199.7,760.4 M199.7,762.1 L212.9,762.1 M186,757 L186.4,760.4"/>
<path d="M176,742 L181,749 L183,744 L180,741 Z M182,744 L184,752" stroke-width="2"/>
<path d="M156,709.1 L145.8,758.8 M159.1,709.9 L150.8,753.8 M145.8,758.8 L150.8,753.8"/>
<!-- left triangle bracket and blocks -->
<path d="M182.2,670.2 L186.4,657.8 L194.7,657.3 L189.5,670.2 M184,668 L188,660 L192,662 L190,668" stroke-width="1.1"/>
<path d="M195.7,657.3 L212.3,653.6 L213,656 M198.8,670.2 L195.7,657.3 M195.7,657.3 L207,655.5" stroke-width="1.6"/>
<path d="M204,671.2 L214.3,707.5 M207.1,656.7 L216.4,707.5 M214.3,655.7 L220.5,707.5"/>
<path d="M213,690 L217,707" stroke-width="2"/>
<path d="M205,673 L215,673"/>
<!-- main body top -->
<path d="M215.4,655.7 L227.1,645.3 Q230,642 233.6,642.1 L244.8,642.5 Q248,644 248.5,647.2 M228,646 Q228,651 229.9,654.6"/>
<path d="M242,650 L270.9,647.6" stroke-width="2"/>
<path d="M238.3,653.2 L267.2,650.9" stroke-width="1.4"/>
<path d="M218.7,676 Q220,668 224.3,662.1 Q230,656 238.3,653.7" stroke-width="1.8"/>
<ellipse cx="239.2" cy="664" rx="6.8" ry="7.3"/>
<path d="M224.3,663 L232.4,663 M246,663 L263.5,663 M263.5,666.3 L283,665.3 M217.8,678.4 L254.1,678.4 M261.6,664 L268.1,651.8"/>
<path d="M263.5,666.8 Q254,670 254.1,679.8 Q254,690 264.4,694.7 Q268.5,688 268.1,680.7 Q268,672 263.5,666.8 Z" stroke-width="1.1"/>
<path d="M260.7,670.5 Q256.5,680 260.7,691"/>
<path d="M265.3,693.8 L287.7,693.8" stroke-width="1.8"/>
<path d="M224.3,701.2 L241.1,700.3 Q247,697 252.3,696.6 L265.3,695.6"/>
<path d="M291.4,689.1 L305,689.1 M291.4,699.4 L305,699.4"/>
<!-- cap block & ring -->
<path d="M270.9,646.3 L296.1,646.3 L302.6,662.1 M270.9,646.3 L268.1,651.8 M263.5,663 L302.6,662.1" stroke-width="1.1"/>
<ellipse cx="283" cy="654.2" rx="11.4" ry="6.4" stroke-width="1.2"/>
<ellipse cx="283" cy="654.2" rx="8.8" ry="5.2" stroke-width="1"/>
<ellipse cx="283" cy="654.2" rx="7" ry="4.3" stroke-width="1.8"/>
<path d="M298.1,651 L318.8,651 L321.9,657.3 L329.2,657.3 L330.2,662.4 L354,662.4 L358.7,669.2 L358.7,674.9 L335.4,674.9 M300,654 L320,654"/>
<path d="M334.4,668.1 L356,668.1 M334.4,668.1 L334.4,674.9 M320,657 Q326,662 324,669"/>
<path d="M314.7,676.4 Q316,670 320.9,669.2 L333.3,668.1 M314.7,676.4 Q313,683 317.8,683.7 Q322,683 327.1,677.4 M325,677 L327,683" stroke-width="1.2"/>
<!-- hook piece -->
<path d="M283,666.8 Q281,670 282.1,673.3 Q285,677.5 289.6,678 L294.2,678 L294.2,695.6 L290.5,697.5" stroke-width="1.8"/>
<path d="M285.8,665.8 Q284,670 286,674 Q289,677 292,676.5 M296,678 L296,693"/>
<path d="M306.4,661.9 Q308,664 308.5,666.1 L310.5,686.8 L308.5,699.2" stroke-width="1.2"/>
<path d="M265,694 L288.8,694 M294.2,688.8 L310.5,688.8 M290.5,699.2 L308.5,699.2" stroke-width="1.2"/>
<path d="M310.5,686.8 L327.1,687.8 Q326,694 318.8,698.1 L308.5,699 M327,684 L327,690" stroke-width="1.3"/>
<!-- long horizontals of body -->
<path d="M225,701 L265,700.2 L306.4,701.3 L329.2,703.3 M246.4,697.1 L257.8,696.1 L264,694 M224.7,701.3 L246.4,697.1" stroke-width="1.2"/>
<path d="M225,701 L223,704 M267.1,705.4 L306.4,705.4 M269.1,712.1 L307.4,712.1 M307.4,716.8 L330.2,716.8 M306.4,701.3 L307.4,716.8 M262,702 L269.1,712.1"/>
<path d="M232,702 Q240,697 247,700 L254,700"/>
<!-- round boss right -->
<path d="M332.5,690 Q350,693 349,705.5 Q348,722 330.4,727.3" />
<path d="M327.5,689 L333,703 L333,715 M330.5,688 L336,700 Q339,706 338,712 L332,727 M335,703 Q338,712 333.5,719" />
<path d="M333,715 L336,716 L333.5,722" stroke-width="1.6"/>
<!-- port plate -->
<path d="M213.1,709.9 L228,709.9 L233,719.8 L247.9,709.9 Q252,707 257.8,707.4 Q264,708 266.1,709.9 L269.4,716.5 L279.4,727.3 L279.4,772 L239.6,772 Q236,776 233,776.2 L221.4,776.2 Q217.5,772 216.4,767.9 L213.1,762.1 L199.7,762.1" stroke-width="1.3"/>
<ellipse cx="256.2" cy="714" rx="7" ry="4" stroke-width="1.2"/>
<ellipse cx="229.7" cy="768.7" rx="7" ry="4.3" stroke-width="1.2"/>
<ellipse cx="242.5" cy="741" rx="32" ry="16.5" transform="rotate(-18 242.5 741)" stroke-width="1.3"/>
<ellipse cx="242.5" cy="740.5" rx="28.5" ry="13.8" transform="rotate(-18 242.5 740.5)" stroke-width="2.6"/>
<ellipse cx="242.5" cy="740.5" rx="25.5" ry="11.5" transform="rotate(-18 242.5 740.5)" stroke-width="1"/>
<path d="M224,731.6 Q225,737 229.8,739 Q236,740.5 244.8,738.2 Q252,735 254.7,729.9 Q256.5,726 255.5,724.1 M229.8,727.4 Q240,724 251.4,724.9 M226,733 Q235,737 245,735.5 Q252,732 253.5,727" stroke-width="1"/>
<path d="M249,767.5 Q247,763 250,760.5 L273,759.7 L275.4,768 Z" stroke-width="1.2"/>
<!-- square frame -->
<path d="M260,700.4 L306.6,700.4 M260,701.8 L306.6,701.8 M267.2,705.5 L306.6,705.5 M269.3,712.3 L306.6,712.3 M306.6,700.4 Q308,708 306.6,715.9 M306.6,704.5 L329.4,704.5 M306.6,715.9 L329.4,715.9"/>
<path d="M270.4,715.9 L300.4,715.4 M272.5,717.5 L299.5,717.2 M270.4,715.9 L270.4,719 L278.6,723.1 L278.6,756.3" stroke-width="1.1"/>
<path d="M291,719 L278.6,743.8 M299.3,716.9 L276.6,764.5 M297.5,718 L275,763.5" stroke-width="1.1"/>
<path d="M305.5,714.8 L278.6,770.7"/>
<path d="M331.4,715.9 L309.7,757.3 M332.5,720 L313.8,757.3 M330,717 L311.5,757" stroke-width="1"/>
<path d="M285.9,757.3 L318,757.3 Q320,756 320,752.1 L322,748 M285.9,758.8 L318,758.8"/>
<path d="M260,759.4 L303.5,759.4 L302.4,764.5 L281.7,763.5 M260,766.6 L275.5,766.6 M260,770.7 L278.6,770.7" stroke-width="1.1"/>
<path d="M288,696.2 Q289,699 291,699.3 L308.7,699.3 M309.7,690 L308.7,696 Q312,699 318,699.3 Q323,698 326.3,695.2"/>
<!-- left lower panel -->
<path d="M214,707.5 L213.1,709.9 M219,716 Q225,719 230,711"/>
</g>
</svg>
</body></html>
